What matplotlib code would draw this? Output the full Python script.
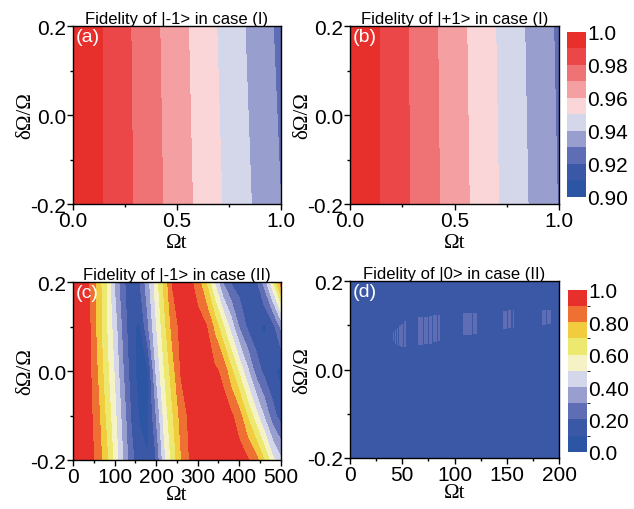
import numpy as np
import matplotlib
matplotlib.use("Agg")
import matplotlib.pyplot as plt
from matplotlib.colors import ListedColormap, BoundaryNorm

plt.rcParams['font.family'] = ['Liberation Sans', 'DejaVu Sans']

# ---- data ----
# case (I): fidelity on a coarse grid, rows = delta, cols = Omega t
t_ab = [0.0, 0.5, 1.0]
delta_ab = [-0.2, 0.2]
fid_a = [[1.0, 0.9653, 0.9300],
         [1.0, 0.9641, 0.9273]]
fid_b = [[1.0, 0.9650, 0.9294],
         [1.0, 0.9642, 0.9281]]

# case (II), |-1>: rows at delta = -0.2 .. 0.2, cols at Omega t = 0, 20, ..., 500
t_c = np.arange(0, 501, 20)
delta_c = [-0.2, -0.1, 0.0, 0.1, 0.2]
fid_c = [
    [1.0, 0.98, 0.94, 0.86, 0.73, 0.57, 0.40, 0.23, 0.14, 0.105, 0.20, 0.47, 0.64,
     0.79, 0.90, 0.94, 0.96, 0.97, 0.98, 0.97, 0.95, 0.91, 0.84, 0.70, 0.53, 0.42],
    [1.0, 0.98, 0.93, 0.83, 0.68, 0.53, 0.36, 0.19, 0.09, 0.07, 0.30, 0.54, 0.69,
     0.84, 0.92, 0.94, 0.97, 0.97, 0.94, 0.92, 0.84, 0.69, 0.54, 0.39, 0.24, 0.15],
    [1.0, 0.97, 0.92, 0.79, 0.64, 0.49, 0.31, 0.15, 0.05, 0.09, 0.41, 0.60, 0.76,
     0.91, 0.94, 0.98, 0.95, 0.92, 0.88, 0.73, 0.58, 0.42, 0.26, 0.17, 0.12, 0.07],
    [1.0, 0.97, 0.91, 0.76, 0.61, 0.45, 0.27, 0.12, 0.085, 0.28, 0.49, 0.67, 0.84,
     0.93, 0.98, 0.94, 0.91, 0.78, 0.62, 0.46, 0.29, 0.18, 0.13, 0.08, 0.15, 0.32],
    [1.0, 0.97, 0.89, 0.76, 0.60, 0.39, 0.22, 0.14, 0.19, 0.36, 0.55, 0.73, 0.91,
     0.97, 0.93, 0.85, 0.70, 0.50, 0.30, 0.19, 0.15, 0.11, 0.17, 0.33, 0.57, 0.85],
]

# case (II), |0>: flat background plus a few lighter stripes
fid_d_base = 0.15
fid_d_stripe = 0.25
stripe_t0 = [40.8, 42.8, 44.7, 46.9, 49.1, 51.7, 65.4, 70.5, 75.6, 79.7, 83.9,
             107.8, 113.2, 118.0, 146.1, 150.9, 155.3, 183.4, 188.2]
stripe_t1 = [41.8, 43.7, 46.3, 48.5, 51.0, 53.6, 69.5, 74.3, 78.8, 83.0, 86.1,
             112.3, 116.5, 121.2, 149.9, 154.1, 157.0, 187.2, 192.4]
stripe_lo = [0.065, 0.060, 0.057, 0.054, 0.052, 0.051, 0.056, 0.058, 0.060, 0.062, 0.064,
             0.078, 0.080, 0.082, 0.092, 0.093, 0.094, 0.102, 0.104]
stripe_hi = [0.085, 0.090, 0.095, 0.100, 0.105, 0.108, 0.118, 0.120, 0.122, 0.124, 0.125,
             0.128, 0.129, 0.130, 0.132, 0.133, 0.133, 0.135, 0.135]

levels_ab = np.linspace(0.90, 1.0, 11)
colors_ab = ['#2c56a4', '#3b58a7', '#5f6db5', '#989fcf', '#d4d6ea',
             '#fad6d8', '#f4a0a3', '#ef7375', '#eb4749', '#e7302b']
levels_cd = np.linspace(0.0, 1.0, 11)
colors_cd = ['#2c56a4', '#3b58a7', '#5f6db5', '#989fcf', '#d4d6ea',
             '#f5f3c5', '#ede970', '#f1cc3e', '#ee7033', '#e7302b']

fig = plt.figure(figsize=(6.34, 5.10), dpi=100)
ax_a = fig.add_axes([0.115, 0.598, 0.328, 0.349])
ax_b = fig.add_axes([0.552, 0.598, 0.330, 0.349])
cax1 = fig.add_axes([0.894, 0.612, 0.030, 0.3235])
ax_c = fig.add_axes([0.115, 0.096, 0.328, 0.349])
ax_d = fig.add_axes([0.552, 0.100, 0.330, 0.347])
cax2 = fig.add_axes([0.896, 0.112, 0.030, 0.318])

cs_a = ax_a.contourf(t_ab, delta_ab, fid_a, levels=levels_ab, colors=colors_ab)
cs_b = ax_b.contourf(t_ab, delta_ab, fid_b, levels=levels_ab, colors=colors_ab)
cs_c = ax_c.contourf(t_c, delta_c, fid_c, levels=levels_cd, colors=colors_cd)

# panel d field
t_d = np.arange(0, 200.01, 0.25)
d_d = np.arange(-0.2, 0.2001, 0.0025)
Z_d = np.full((len(d_d), len(t_d)), fid_d_base)
TT, DD = np.meshgrid(t_d, d_d)
for t0, t1, lo, hi in zip(stripe_t0, stripe_t1, stripe_lo, stripe_hi):
    Z_d[(TT >= t0) & (TT <= t1) & (DD >= lo) & (DD <= hi)] = fid_d_stripe
cmap_cd = ListedColormap(colors_cd)
norm_cd = BoundaryNorm(levels_cd, cmap_cd.N)
pm_d = ax_d.pcolormesh(t_d, d_d, Z_d, cmap=cmap_cd, norm=norm_cd, shading='nearest')

titles = ['Fidelity of |-1> in case (I)', 'Fidelity of |+1> in case (I)',
          'Fidelity of |-1> in case (II)', 'Fidelity of |0> in case (II)']
tags = ['(a)', '(b)', '(c)', '(d)']
xlims = [(0, 1), (0, 1), (0, 500), (0, 200)]
xmaj = [0.5, 0.5, 100, 50]
xlab_y = [-0.165, -0.165, -0.14, -0.14]

for ax, title, tag, xl, xm, xy in zip([ax_a, ax_b, ax_c, ax_d], titles, tags,
                                      xlims, xmaj, xlab_y):
    ax.set_xlim(*xl)
    ax.set_ylim(-0.2, 0.2)
    ax.set_xticks(np.arange(xl[0], xl[1] + xm / 2, xm))
    ax.set_xticks(np.arange(xl[0] + xm / 2, xl[1], xm), minor=True)
    ax.set_yticks([-0.2, 0.0, 0.2])
    ax.set_yticks([-0.1, 0.1], minor=True)
    if xl[1] == 1:
        ax.set_xticklabels(['0.0', '0.5', '1.0'])
    ax.set_yticklabels(['-0.2', '0.0', '0.2'])
    ax.tick_params(which='major', direction='out', length=4, width=1, labelsize=15, pad=1)
    ax.tick_params(which='minor', direction='out', length=2.5, width=1)
    for s in ax.spines.values():
        s.set_linewidth(1)
    ax.set_title(title, fontsize=12, pad=2)
    ax.text(0.015, 0.99, tag, transform=ax.transAxes, color='white',
            fontsize=14, ha='left', va='top')
    ax.set_xlabel('Ωt', family='Liberation Serif', fontsize=15)
    ax.set_ylabel('δΩ/Ω', family='Liberation Serif', fontsize=15)
    ax.xaxis.set_label_coords(0.5, xy)
    ax.yaxis.set_label_coords(-0.18, 0.5)

cb1 = fig.colorbar(cs_a, cax=cax1)
cb1.set_ticks([0.90, 0.92, 0.94, 0.96, 0.98, 1.0])
cb1.set_ticklabels(['0.90', '0.92', '0.94', '0.96', '0.98', '1.0'])
cb2 = fig.colorbar(pm_d, cax=cax2)
cb2.set_ticks([0.0, 0.2, 0.4, 0.6, 0.8, 1.0])
cb2.set_ticklabels(['0.0', '0.20', '0.40', '0.60', '0.80', '1.0'])
for cb in (cb1, cb2):
    cb.outline.set_visible(False)
    cb.ax.tick_params(length=0, labelsize=15, pad=1)

fig.savefig('out.png', dpi=100)
